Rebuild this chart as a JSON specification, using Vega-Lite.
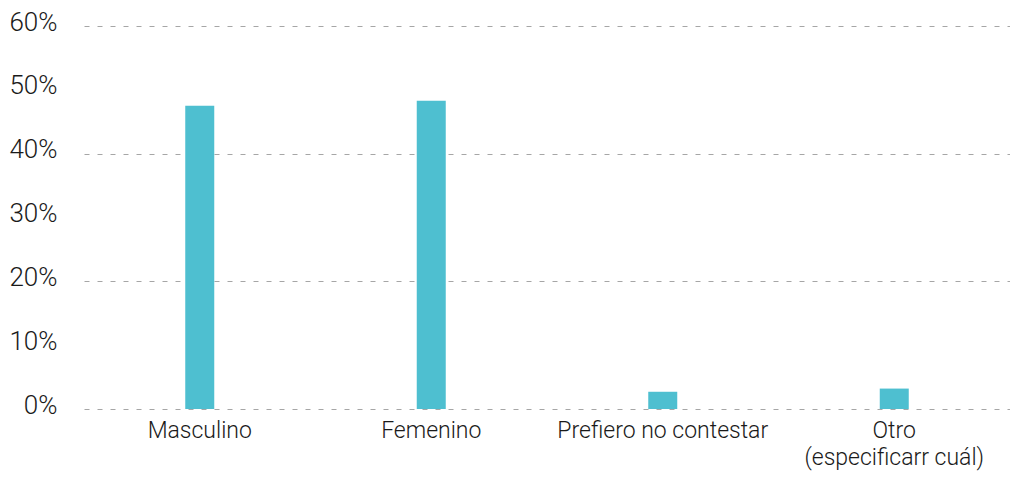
{
  "$schema": "https://vega.github.io/schema/vega-lite/v6.json",
  "autosize": {"type": "none"},
  "padding": {"left": 84, "top": 26, "right": 0, "bottom": 69},
  "width": 926,
  "height": 383,
  "background": "white",
  "data": {
    "values": [
      {"genero": "Masculino", "pct": 47.5},
      {"genero": "Femenino", "pct": 48.3},
      {"genero": "Prefiero no contestar", "pct": 2.7},
      {"genero": "Otro (especificarr cuál)", "pct": 3.2}
    ]
  },
  "mark": {"type": "bar", "width": 29, "color": "#4EBFD0"},
  "encoding": {
    "x": {
      "field": "genero",
      "type": "nominal",
      "sort": null,
      "scale": {"paddingInner": 0, "paddingOuter": 0},
      "axis": {
        "title": null,
        "domain": false,
        "ticks": false,
        "grid": false,
        "labelAngle": 0,
        "labelLimit": 0,
        "labelFont": "Roboto",
        "labelFontWeight": 300,
        "labelFontSize": 23,
        "labelColor": "#1A1A1A",
        "labelPadding": 10,
        "labelLineHeight": 27,
        "labelExpr": "datum.label == 'Otro (especificarr cuál)' ? ['Otro', '(especificarr cuál)'] : datum.label"
      }
    },
    "y": {
      "field": "pct",
      "type": "quantitative",
      "scale": {"domain": [0, 60], "nice": false},
      "axis": {
        "title": null,
        "domain": false,
        "ticks": false,
        "values": [0, 10, 20, 30, 40, 50, 60],
        "labelExpr": "datum.value + '%'",
        "labelFont": "Roboto",
        "labelFontWeight": 300,
        "labelFontSize": 26,
        "labelColor": "#1A1A1A",
        "labelPadding": 27,
        "labelOffset": -4,
        "grid": true,
        "gridColor": "#A6A6A6",
        "gridWidth": 1,
        "gridDash": [5, 8],
        "gridOpacity": {"condition": {"test": "datum.value % 20 === 0", "value": 1}, "value": 0}
      }
    }
  },
  "config": {"view": {"stroke": null}}
}
